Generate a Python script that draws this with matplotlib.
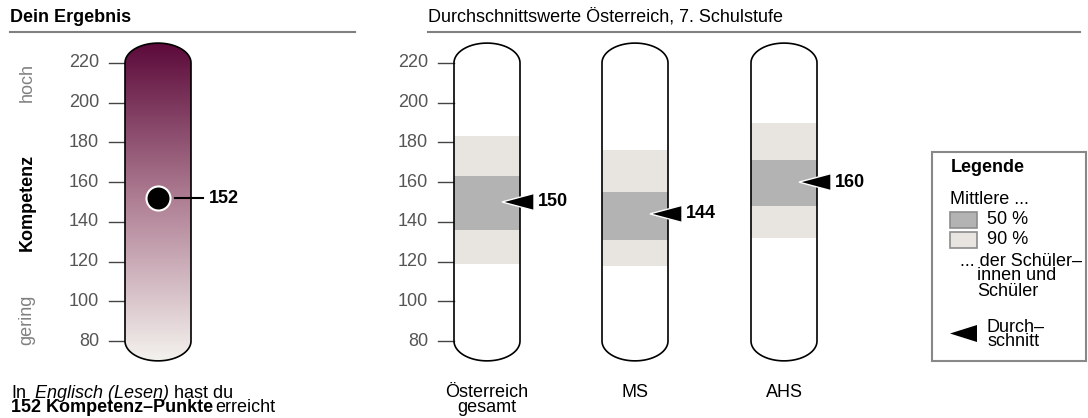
"""Kompetenz-Ergebnis mit Vergleich zu Durchschnittswerten Österreich"""

import numpy as np
import matplotlib.pyplot as plt
from matplotlib.colors import LinearSegmentedColormap
from matplotlib.patches import Polygon, Rectangle

plt.rcParams['font.family'] = ['Liberation Sans', 'DejaVu Sans']

# Daten
my_score = 152
groups = ['Österreich\ngesamt', 'MS', 'AHS']
means = [150, 144, 160]
p50_lo = [136, 131, 148]
p50_hi = [163, 155, 171]
p90_lo = [119, 118, 132]
p90_hi = [183, 176, 190]
yticks = [80, 100, 120, 140, 160, 180, 200, 220]

# Layout (Pixel in x, Werte in y)
W, H = 1088, 418
LEFT_X = 158
GROUP_X = [487, 635, 784]
HALF_W = 33
CAP = 10
FS = 13
C_50 = '#b3b3b3'
C_90 = '#e8e4e0'
C_TICK = '#555555'
C_RULE = '#808080'
Y_LIM = (80 - 77 / 1.986, 80 + 341 / 1.986)

fig = plt.figure(figsize=(W / 100, H / 100), dpi=100)

# Achse für Daten: y in Kompetenzpunkten
ax = fig.add_axes([0, 0, 1, 1])
ax.axis('off')

# Achse für Layout-Elemente in Pixeln
lay = fig.add_axes([0, 0, 1, 1], zorder=5)
lay.set_xlim(0, W)
lay.set_ylim(H, 0)
lay.axis('off')
lay.patch.set_alpha(0)


def capsule(cx, y0=80, y1=220):
    t = np.linspace(0, np.pi, 80)
    top = np.column_stack([cx + HALF_W * np.cos(t), y1 + CAP * np.sin(t)])
    bot = np.column_stack([cx - HALF_W * np.cos(t), y0 - CAP * np.sin(t)])
    return np.vstack([top, bot])


def draw_ticks(x_bar, x_label):
    for v in yticks:
        ax.plot([x_bar - 16, x_bar], [v, v], color='#444444', lw=1.0, zorder=1)
        ax.text(x_label, v, str(v), ha='right', va='center',
                fontsize=FS, color=C_TICK)


# --- Linkes Panel ---
lay.text(10, 17, 'Dein Ergebnis', fontsize=FS, fontweight='bold',
         ha='left', va='center')
lay.plot([10, 355], [32, 32], color=C_RULE, lw=1.5)

draw_ticks(LEFT_X - HALF_W, 99)

cmap = LinearSegmentedColormap.from_list(
    'komp', ['#f4f2ee', '#b08095', '#5c0a3a'])
grad = np.linspace(0, 1, 256).reshape(-1, 1)
shape = Polygon(capsule(LEFT_X), closed=True, transform=ax.transData,
                facecolor='none', edgecolor='black', lw=1.2, zorder=3)
img = ax.imshow(grad, cmap=cmap, origin='lower', aspect='auto',
                extent=[LEFT_X - HALF_W, LEFT_X + HALF_W, 80 - CAP, 220 + CAP],
                zorder=2)
img.set_clip_path(shape)
ax.add_patch(shape)

ax.scatter([LEFT_X], [my_score], s=300, color='black', edgecolor='white',
           linewidth=1.5, zorder=4)
ax.plot([LEFT_X + 17, LEFT_X + 45], [my_score, my_score], color='black',
        lw=1.5, zorder=4)
ax.text(LEFT_X + 51, my_score, str(my_score), fontsize=FS, fontweight='bold',
        ha='left', va='center')

lay.text(27, 83, 'hoch', rotation=90, ha='center', va='center',
         fontsize=FS, color='#808080')
lay.text(27, 202, 'Kompetenz', rotation=90, ha='center', va='center',
         fontsize=FS, fontweight='bold')
lay.text(27, 320, 'gering', rotation=90, ha='center', va='center',
         fontsize=FS, color='#808080')

t1 = lay.text(11, 398, 'In', fontsize=FS, ha='left', va='baseline')
t2 = lay.annotate('Englisch (Lesen)', xy=(1, 0), xycoords=t1,
                  xytext=(6.5, 0), textcoords='offset points',
                  fontsize=FS, style='italic', ha='left', va='bottom')
lay.annotate('hast du', xy=(1, 0), xycoords=t2, xytext=(3.5, 0),
             textcoords='offset points', fontsize=FS, ha='left', va='bottom')
t4 = lay.text(11, 412, f'{my_score} Kompetenz–Punkte', fontsize=FS,
              fontweight='bold', ha='left', va='baseline')
lay.annotate('erreicht', xy=(1, 0), xycoords=t4, xytext=(1.5, 0),
             textcoords='offset points', fontsize=FS, ha='left', va='bottom')

# --- Rechtes Panel ---
lay.text(428, 17, 'Durchschnittswerte Österreich, 7. Schulstufe',
         fontsize=FS, ha='left', va='center')
lay.plot([428, 1080], [32, 32], color=C_RULE, lw=1.5)

draw_ticks(GROUP_X[0] - HALF_W, 428)

for i, cx in enumerate(GROUP_X):
    ax.bar(cx, p90_hi[i] - p90_lo[i], bottom=p90_lo[i], width=2 * HALF_W,
           color=C_90, zorder=2)
    ax.bar(cx, p50_hi[i] - p50_lo[i], bottom=p50_lo[i], width=2 * HALF_W,
           color=C_50, zorder=2)
    ax.add_patch(Polygon(capsule(cx), closed=True, facecolor='none',
                         edgecolor='black', lw=1.2, zorder=3))
    m = means[i]
    ax.add_patch(Polygon([[cx + 15, m], [cx + 47, m + 4.3], [cx + 47, m - 4.3]],
                         closed=True, facecolor='black', edgecolor='white',
                         lw=1.0, zorder=4))
    ax.text(cx + 51, m, str(m), fontsize=FS, fontweight='bold',
            ha='left', va='center', zorder=5)
    lay.text(cx, 384, groups[i], fontsize=FS, ha='center', va='top',
             linespacing=0.85)

ax.set_xlim(0, W)
ax.set_ylim(*Y_LIM)

# --- Legende ---
lay.add_patch(Rectangle((932, 152), 154, 209, facecolor='white',
                        edgecolor='#888888', lw=1.5))
lay.text(951, 168, 'Legende', fontsize=FS, fontweight='bold',
         ha='left', va='center')
lay.text(950, 199, 'Mittlere ...', fontsize=FS, ha='left', va='center')
lay.add_patch(Rectangle((950, 212), 27, 16, facecolor=C_50,
                        edgecolor='#8c8c8c', lw=1.2))
lay.text(987, 220, '50 %', fontsize=FS, ha='left', va='center')
lay.add_patch(Rectangle((950, 232), 27, 16, facecolor=C_90,
                        edgecolor='#8c8c8c', lw=1.2))
lay.text(987, 240, '90 %', fontsize=FS, ha='left', va='center')
lay.text(960, 261, '... der Schüler–', fontsize=FS, ha='left', va='center')
lay.text(977, 276, 'innen und', fontsize=FS, ha='left', va='center')
lay.text(977, 292, 'Schüler', fontsize=FS, ha='left', va='center')
lay.add_patch(Polygon([[950, 333.5], [977, 325], [977, 342]], closed=True,
                      facecolor='black', edgecolor='none'))
lay.text(987, 327, 'Durch–', fontsize=FS, ha='left', va='center')
lay.text(987, 342, 'schnitt', fontsize=FS, ha='left', va='center')

fig.savefig('out.png', dpi=100)
